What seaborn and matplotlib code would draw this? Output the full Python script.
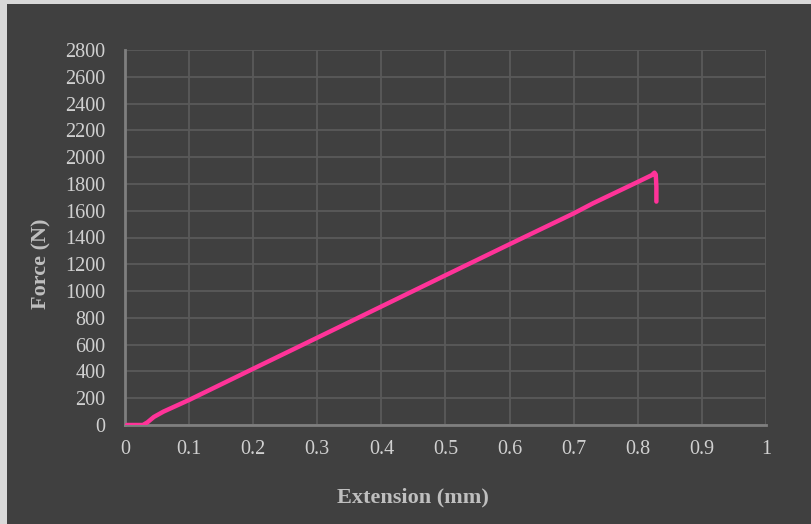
import matplotlib
matplotlib.use("Agg")
import matplotlib.pyplot as plt
import seaborn as sns
import pandas as pd
from matplotlib.patches import Rectangle

extension = [0.003, 0.028, 0.035, 0.045, 0.06, 0.1, 0.2, 0.3, 0.4, 0.5, 0.6, 0.7,
             0.73, 0.8, 0.822, 0.826, 0.828, 0.829, 0.829]
force = [0, 0, 20, 60, 100, 187, 420, 652, 885, 1118, 1350, 1580,
         1655, 1815, 1866, 1884, 1870, 1780, 1668]

x_ticks = [0, 0.1, 0.2, 0.3, 0.4, 0.5, 0.6, 0.7, 0.8, 0.9, 1]
x_tick_labels = ["0", "0.1", "0.2", "0.3", "0.4", "0.5", "0.6", "0.7", "0.8", "0.9", "1"]
y_ticks = list(range(0, 2801, 200))

df = pd.DataFrame({"Extension": extension, "Force": force})

sns.set_theme(style="dark")
plt.rcParams["font.family"] = ["Liberation Serif", "DejaVu Serif"]

bg = "#404040"
fig = plt.figure(figsize=(8.12, 5.24), dpi=100, facecolor=bg)
ax = fig.add_axes([125 / 812, 1 - 425 / 524, 641 / 812, 375 / 524])
ax.set_facecolor(bg)

# light outer border (left & top)
fig.patches.append(Rectangle((0, 0), 7 / 812, 1, transform=fig.transFigure,
                             facecolor="#d9d9d9", edgecolor="none", zorder=10))
fig.patches.append(Rectangle((0, 1 - 4 / 524), 1, 4 / 524, transform=fig.transFigure,
                             facecolor="#d9d9d9", edgecolor="none", zorder=10))

sns.lineplot(data=df, x="Extension", y="Force", ax=ax, sort=False, estimator=None,
             color="#ff3399", linewidth=3.2, solid_capstyle="round",
             solid_joinstyle="round", zorder=5)

ax.set_xlim(0, 1)
ax.set_ylim(0, 2800)
ax.set_xticks(x_ticks)
ax.set_xticklabels(x_tick_labels)
ax.set_yticks(y_ticks)
ax.grid(True, color="#5a5a5a", linewidth=1.3)
ax.set_axisbelow(True)
for s in ["top", "right"]:
    ax.spines[s].set_visible(False)
for s in ["left", "bottom"]:
    ax.spines[s].set_visible(True)
    ax.spines[s].set_color("#7f7f7f")
    ax.spines[s].set_linewidth(2)
ax.tick_params(axis="both", length=0, colors="#d0d0d0", labelsize=14.5)
ax.tick_params(axis="y", pad=14)
ax.tick_params(axis="x", pad=11)

ax.set_xlabel("Extension (mm)", fontsize=16, fontweight="bold", color="#bfbfbf")
ax.set_ylabel("Force (N)", fontsize=16, fontweight="bold", color="#bfbfbf")
ax.xaxis.label.set_va("center")
ax.yaxis.label.set_va("center")
ax.xaxis.set_label_coords(0.449, -0.192)
ax.yaxis.set_label_coords(-0.131, 0.43)

fig.savefig("out.png", dpi=100, facecolor=bg)
